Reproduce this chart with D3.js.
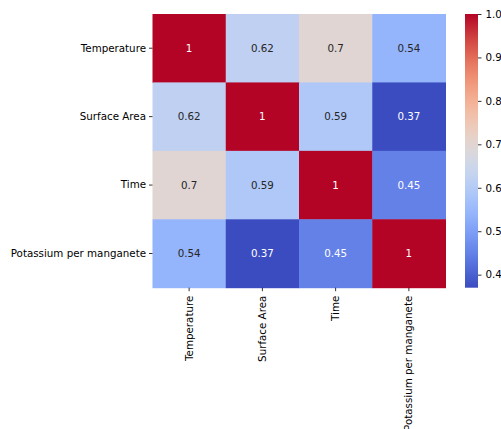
<!DOCTYPE html>
<html><head><meta charset="utf-8">
<script src="https://cdn.jsdelivr.net/npm/d3@7"></script>
<style>body{margin:0;background:#fff}text{font-family:"DejaVu Sans",sans-serif}</style>
</head><body>
<svg id="c" width="501" height="429"></svg>
<script>
const variables = ["Temperature","Surface Area","Time","Potassium per manganete"];
const matrix = [
  [1, 0.62, 0.7, 0.54],
  [0.62, 1, 0.59, 0.37],
  [0.7, 0.59, 1, 0.45],
  [0.54, 0.37, 0.45, 1]
];
const colorbarTicks = [0.4,0.5,0.6,0.7,0.8,0.9,1.0];
const vmin = 0.37, vmax = 1.0;

const coolwarmStops = ["#3b4cc0","#6282ea","#8db0fe","#b9d0f9","#dddddd","#f5c4ac","#f49a7b","#dc5d4a","#b40426"];
const interp = d3.interpolateRgbBasis(coolwarmStops);
const color = v => interp((v - vmin)/(vmax - vmin));

const FS = 10.3;
const svg = d3.select("#c");
const L=152.5, R=445.5, T=14, B=287.7;
const x = d3.scaleBand().domain(variables).range([L,R]);
const y = d3.scaleBand().domain(variables).range([T,B]);

const cells = [];
matrix.forEach((row,i)=>row.forEach((v,j)=>cells.push({r:variables[i],c:variables[j],v})));

svg.selectAll("rect.cell").data(cells).join("rect")
  .attr("x",d=>x(d.c)).attr("y",d=>y(d.r))
  .attr("width",x.bandwidth()+0.5).attr("height",y.bandwidth()+0.5)
  .attr("fill",d=>color(d.v));

svg.selectAll("text.ann").data(cells).join("text")
  .attr("x",d=>x(d.c)+x.bandwidth()/2).attr("y",d=>y(d.r)+y.bandwidth()/2)
  .attr("text-anchor","middle").attr("dy","0.35em")
  .attr("font-size",FS)
  .attr("fill",d=>{const t=(d.v-vmin)/(vmax-vmin); return (t<0.2||t>0.8)?"#ffffff":"#262626";})
  .text(d=>String(d.v));

const yAxis = svg.append("g").attr("transform",`translate(${L},0)`)
  .call(d3.axisLeft(y).tickSize(3.5).tickPadding(3));
yAxis.select(".domain").remove();
yAxis.selectAll("text").attr("font-size",FS).attr("fill","#000").style("font-family","DejaVu Sans");
yAxis.selectAll("line").attr("stroke","#000").attr("stroke-width",0.8);

const xAxis = svg.append("g").attr("transform",`translate(0,${B})`)
  .call(d3.axisBottom(x).tickSize(3.5).tickPadding(3.5));
xAxis.select(".domain").remove();
xAxis.selectAll("line").attr("stroke","#000").attr("stroke-width",0.8);
xAxis.selectAll("text").attr("font-size",FS).attr("fill","#000").style("font-family","DejaVu Sans")
  .attr("transform","rotate(-90)").attr("text-anchor","end")
  .attr("x",-8).attr("y",0).attr("dy","0.35em");

// colorbar
const CL=465, CR=478;
const cy = d3.scaleLinear().domain([vmin,vmax]).range([B,T]);
const defs = svg.append("defs");
const grad = defs.append("linearGradient").attr("id","g").attr("x1",0).attr("y1",1).attr("x2",0).attr("y2",0);
d3.range(0,1.0001,0.02).forEach(t=>grad.append("stop").attr("offset",t).attr("stop-color",interp(t)));
svg.append("rect").attr("x",CL).attr("y",T).attr("width",CR-CL).attr("height",B-T).attr("fill","url(#g)");
const cAxis = svg.append("g").attr("transform",`translate(${CR},0)`)
  .call(d3.axisRight(cy).tickValues(colorbarTicks).tickFormat(d3.format(".1f")).tickSize(3.5).tickPadding(4));
cAxis.select(".domain").remove();
cAxis.selectAll("line").attr("stroke","#000").attr("stroke-width",0.8);
cAxis.selectAll("text").attr("font-size",FS).attr("fill","#000").style("font-family","DejaVu Sans");
</script>
</body></html>
